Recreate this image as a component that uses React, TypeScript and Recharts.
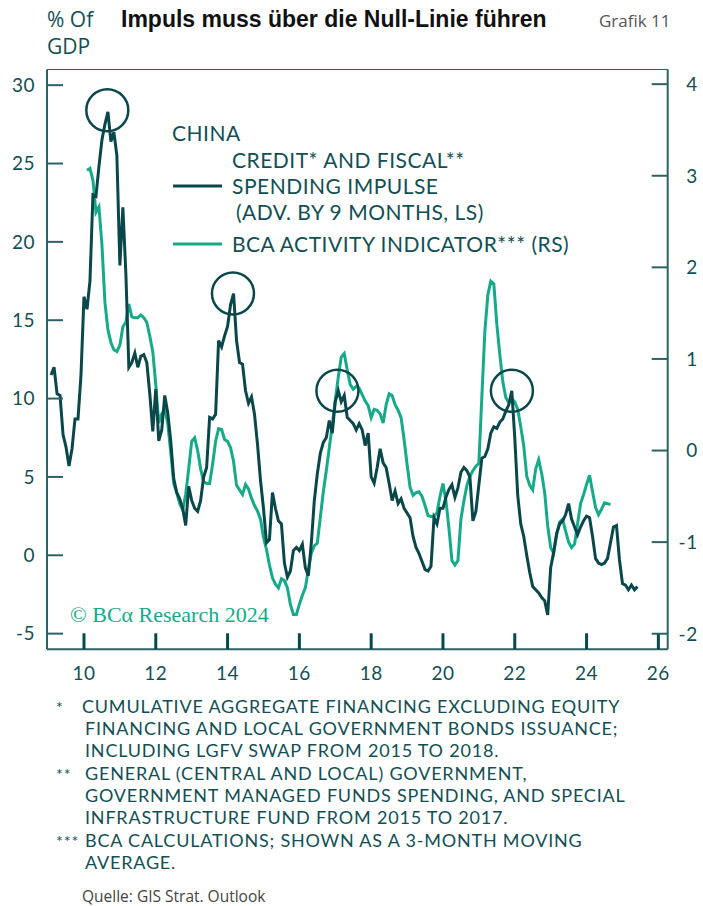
import { Line, LineChart, ReferenceDot, XAxis, YAxis } from 'recharts';

// months counted from Jan 2009 (x axis shows years as 10, 12, ... 26)
const creditStartMonth = 1;
const creditImpulse = [
    11.5, 12.0, 10.3, 10.2, 7.7, 6.9, 5.7, 6.8, 8.7, 8.7,
    11.5, 16.5, 15.7, 17.5, 23.0, 22.9, 24.8, 26.5, 27.5, 28.3,
    26.4, 27.0, 25.5, 18.5, 22.2, 18.0, 12.0, 12.3, 12.9, 12.0,
    12.7, 12.8, 12.3, 10.3, 7.9, 10.6, 7.3, 8.0, 10.2, 9.1,
    7.3, 4.9, 4.0, 3.6, 3.0, 1.9, 4.4, 3.5, 3.0, 2.8,
    3.5, 5.0, 5.6, 8.8, 8.7, 9.0, 13.7, 13.3, 14.0, 14.6,
    16.0, 16.7, 13.7, 12.3, 12.2, 10.5, 9.7, 10.1, 9.0, 7.1,
    4.8, 3.0, 0.8, 1.0, 4.0, 3.0, 2.2, 2.0, -0.5, -1.4,
    -1.0, 0.3, 0.5, 0.3, 0.7, -0.8, -1.3, 0.8, 3.5, 5.2,
    6.5, 7.2, 7.5, 8.6, 7.8, 9.8, 10.5, 9.8, 10.2, 8.8,
    8.6, 8.4, 8.0, 8.4, 8.0, 7.0, 7.8, 5.0, 4.6, 5.6,
    6.8, 5.9, 5.6, 4.6, 3.5, 4.1, 3.3, 3.6, 3.0, 2.7,
    2.4, 1.2, 0.5, 0.1, -0.4, -0.9, -1.0, -0.7, 2.4, 2.0,
    3.0, 3.0, 3.7, 4.2, 4.5, 3.7, 4.3, 5.3, 5.6, 5.4,
    5.0, 2.2, 2.8, 4.5, 6.2, 6.3, 6.8, 7.8, 8.2, 8.1,
    8.5, 8.7, 9.2, 9.6, 10.5, 7.5, 3.8, 2.0, 1.2, 0.0,
    -1.1, -2.0, -2.2, -2.4, -2.7, -2.9, -3.8, -0.8, 0.2, 1.4,
    2.0, 2.2, 2.6, 3.3, 2.3, 1.8, 1.3, 1.8, 2.2, 2.5,
    2.4, 1.2, -0.2, -0.5, -0.6, -0.5, -0.2, 0.8, 1.8, 1.9,
    -0.3, -1.8, -1.9, -2.2, -1.9, -2.2, -2.0,
];

const activityStartMonth = 13;
const activityIndicator = [
    3.06, 3.08, 2.95, 2.6, 2.66, 2.25, 1.62, 1.32, 1.18, 1.1,
    1.08, 1.15, 1.35, 1.4, 1.6, 1.46, 1.45, 1.45, 1.48, 1.45,
    1.4, 1.25, 1.08, 0.72, 0.3, 0.4, 0.45, 0.3, -0.02, -0.36,
    -0.46, -0.58, -0.65, -0.48, -0.2, 0.1, 0.14, 0.0, -0.2, -0.34,
    -0.36, -0.36, -0.15, 0.1, 0.24, 0.23, 0.12, 0.1, 0.03, -0.12,
    -0.38, -0.43, -0.48, -0.37, -0.42, -0.52, -0.6, -0.66, -0.75, -0.95,
    -1.08, -1.25, -1.39, -1.46, -1.5, -1.4, -1.42, -1.5, -1.68, -1.79,
    -1.79, -1.68, -1.58, -1.5, -1.3, -1.12, -1.04, -1.01, -0.73, -0.45,
    -0.22, 0.03, 0.28, 0.55, 0.8, 1.02, 1.06, 0.88, 0.72, 0.67,
    0.7, 0.68, 0.61, 0.54, 0.49, 0.36, 0.45, 0.44, 0.4, 0.3,
    0.5, 0.62, 0.6, 0.5, 0.44, 0.36, 0.12, -0.15, -0.4, -0.49,
    -0.46, -0.45, -0.5, -0.6, -0.71, -0.72, -0.72, -0.68, -0.5, -0.36,
    -0.55, -0.85, -1.2, -1.25, -1.2, -0.75, -0.55, -0.38, -0.28, -0.22,
    -0.17, -0.14, 0.59, 1.3, 1.7, 1.85, 1.82, 1.38, 1.05, 0.75,
    0.58, 0.52, 0.57, 0.53, 0.45, 0.26, 0.05, -0.28, -0.38, -0.43,
    -0.2, -0.1, -0.25, -0.46, -0.82, -1.06, -1.12, -0.92, -0.78, -0.75,
    -0.88, -1.0, -1.06, -1.02, -0.8, -0.58, -0.48, -0.37, -0.27, -0.45,
    -0.62, -0.7, -0.64, -0.57, -0.58, -0.59,
];

// peaks marked with a circle (year, % of GDP)
const circledPeaks = [
    { t: 10.65, v: 28.4 },
    { t: 14.15, v: 16.7 },
    { t: 17.06, v: 10.5 },
    { t: 21.92, v: 10.5 },
];

const yearTicks = [10, 12, 14, 16, 18, 20, 22, 24, 26];
const leftTicks = [-5, 0, 5, 10, 15, 20, 25, 30];
const rightTicks = [-2, -1, 0, 1, 2, 3, 4];

const footnotes = [
    { mark: '*', lines: ['CUMULATIVE AGGREGATE FINANCING EXCLUDING EQUITY', 'FINANCING AND LOCAL GOVERNMENT BONDS ISSUANCE;', 'INCLUDING LGFV SWAP FROM 2015 TO 2018.'] },
    { mark: '**', lines: ['GENERAL (CENTRAL AND LOCAL) GOVERNMENT,', 'GOVERNMENT MANAGED FUNDS SPENDING, AND SPECIAL', 'INFRASTRUCTURE FUND FROM 2015 TO 2017.'] },
    { mark: '***', lines: ['BCA CALCULATIONS; SHOWN AS A 3-MONTH MOVING', 'AVERAGE.'] },
];

const totalMonths = creditStartMonth + creditImpulse.length;
const data = Array.from({ length: totalMonths }, (_, m) => {
    const ci = m - creditStartMonth;
    const ai = m - activityStartMonth;
    return {
        t: 9 + m / 12,
        credit: ci >= 0 && ci < creditImpulse.length ? creditImpulse[ci] : undefined,
        activity: ai >= 0 && ai < activityIndicator.length ? activityIndicator[ai] : undefined,
    };
});

const DARK = '#0a474a';
const GREEN = '#16aa89';
const TEAL_TEXT = '#124f54';
const AXIS = '#2a6265';
const FONT = 'Lato, "Noto Sans", sans-serif';

const LeftTick = (props: any) => {
    const { x, y, payload } = props;
    return (
        <g>
            <line x1={x} x2={x + 16} y1={y} y2={y} stroke={AXIS} strokeWidth={2} />
            <text x={x - 12} y={y} dy="0.36em" textAnchor="end" fontSize={19} letterSpacing={0.5} fontFamily={FONT} fill={TEAL_TEXT}>
                {payload.value}
            </text>
        </g>
    );
};

const RightTick = (props: any) => {
    const { x, y, payload } = props;
    return (
        <g>
            <line x1={x - 16} x2={x} y1={y} y2={y} stroke={AXIS} strokeWidth={2} />
            <text x={x + 30} y={y} dy="0.36em" textAnchor="end" fontSize={19} letterSpacing={0.5} fontFamily={FONT} fill={TEAL_TEXT}>
                {payload.value}
            </text>
        </g>
    );
};

const BottomTick = (props: any) => {
    const { x, y, payload } = props;
    return (
        <g>
            <line x1={x} x2={x} y1={y - 16} y2={y} stroke={DARK} strokeWidth={3} />
            <text x={x} y={y + 31} textAnchor="middle" fontSize={19} letterSpacing={0.5} fontFamily={FONT} fill={TEAL_TEXT}>
                {payload.value}
            </text>
        </g>
    );
};

export default function App() {
    return (
        <div style={{ position: 'absolute', left: 0, top: 0, width: 703, height: 906, background: '#fff' }}>
            <div style={{ position: 'absolute', left: 47, top: 69, width: 621, borderTop: `1.5px solid ${AXIS}` }} />
            <LineChart
                width={703}
                height={906}
                data={data}
                margin={{ top: 69.5, right: 0, left: 0, bottom: 0 }}
                style={{ position: 'absolute', left: 0, top: 0 }}
            >
                <XAxis
                    dataKey="t"
                    type="number"
                    domain={[8.97, 26.26]}
                    ticks={yearTicks}
                    height={256.7}
                    tickSize={0}
                    tickMargin={0}
                    tickLine={false}
                    tick={BottomTick}
                    axisLine={{ stroke: AXIS, strokeWidth: 2 }}
                    allowDataOverflow
                />
                <YAxis
                    yAxisId="left"
                    orientation="left"
                    domain={[-6, 31]}
                    ticks={leftTicks}
                    width={47}
                    tickSize={0}
                    tickMargin={0}
                    tickLine={false}
                    tick={LeftTick}
                    axisLine={{ stroke: AXIS, strokeWidth: 2 }}
                    allowDataOverflow
                />
                <YAxis
                    yAxisId="right"
                    orientation="right"
                    domain={[-2.17, 4.16]}
                    ticks={rightTicks}
                    width={35.3}
                    tickSize={0}
                    tickMargin={0}
                    tickLine={false}
                    tick={RightTick}
                    axisLine={{ stroke: AXIS, strokeWidth: 2 }}
                    allowDataOverflow
                />
                <Line
                    yAxisId="right"
                    dataKey="activity"
                    type="linear"
                    stroke={GREEN}
                    strokeWidth={3}
                    dot={false}
                    isAnimationActive={false}
                />
                <Line
                    yAxisId="left"
                    dataKey="credit"
                    type="linear"
                    stroke={DARK}
                    strokeWidth={3}
                    dot={false}
                    isAnimationActive={false}
                />
                {circledPeaks.map((p, i) => (
                    <ReferenceDot
                        key={i}
                        yAxisId="left"
                        x={p.t}
                        y={p.v}
                        r={21}
                        fill="none"
                        stroke={DARK}
                        strokeWidth={2.5}
                    />
                ))}
            </LineChart>
            <svg width={703} height={906} style={{ position: 'absolute', left: 0, top: 0, pointerEvents: 'none' }}>
                <text x={47} y={27} fontSize={21} fontFamily='"Open Sans", sans-serif' fill={TEAL_TEXT}>% Of</text>
                <text x={47} y={54} fontSize={21} fontFamily='"Open Sans", sans-serif' fill={TEAL_TEXT}>GDP</text>
                <text x={121} y={27} fontSize={23} fontWeight="bold" fontFamily='"Liberation Sans", Arial, sans-serif' fill="#111">
                    Impuls muss über die Null-Linie führen
                </text>
                <text x={599} y={27} fontSize={17} fontFamily='"Open Sans", sans-serif' fill="#555">Grafik 11</text>

                <g fontFamily={FONT} fontSize={21} letterSpacing={0.5} fill={TEAL_TEXT}>
                    <text x={172} y={141}>CHINA</text>
                    <text x={232} y={168}>CREDIT* AND FISCAL**</text>
                    <line x1={173} x2={222} y1={186} y2={186} stroke={DARK} strokeWidth={3} />
                    <text x={232} y={193.5}>SPENDING IMPULSE</text>
                    <text x={236} y={220}>(ADV. BY 9 MONTHS, LS)</text>
                    <line x1={173} x2={222} y1={244} y2={244} stroke={GREEN} strokeWidth={3} />
                    <text x={232} y={252}>BCA ACTIVITY INDICATOR*** (RS)</text>
                </g>

                <text x={70} y={621.5} fontSize={22} fontFamily='"Liberation Serif", "DejaVu Serif", serif' fill={GREEN}>
                    © BCα Research 2024
                </text>

                <g fontFamily={FONT} fontSize={18} letterSpacing={0.8} fill={TEAL_TEXT}>
                    {footnotes.map((f, i) => {
                        const startLine = footnotes.slice(0, i).reduce((s, n) => s + n.lines.length, 0);
                        return (
                            <g key={i}>
                                <text x={56} y={712.7 + startLine * 22.3} fontSize={16} letterSpacing={1}>{f.mark}</text>
                                {f.lines.map((l, j) => (
                                    <text key={j} x={i === 0 && j === 0 ? 82 : 85} y={712.7 + (startLine + j) * 22.3}>
                                        {l}
                                    </text>
                                ))}
                            </g>
                        );
                    })}
                </g>
                <text x={82} y={902} fontSize={15.5} fontFamily='"Open Sans", sans-serif' fill="#444">Quelle: GIS Strat. Outlook</text>
            </svg>
        </div>
    );
}
